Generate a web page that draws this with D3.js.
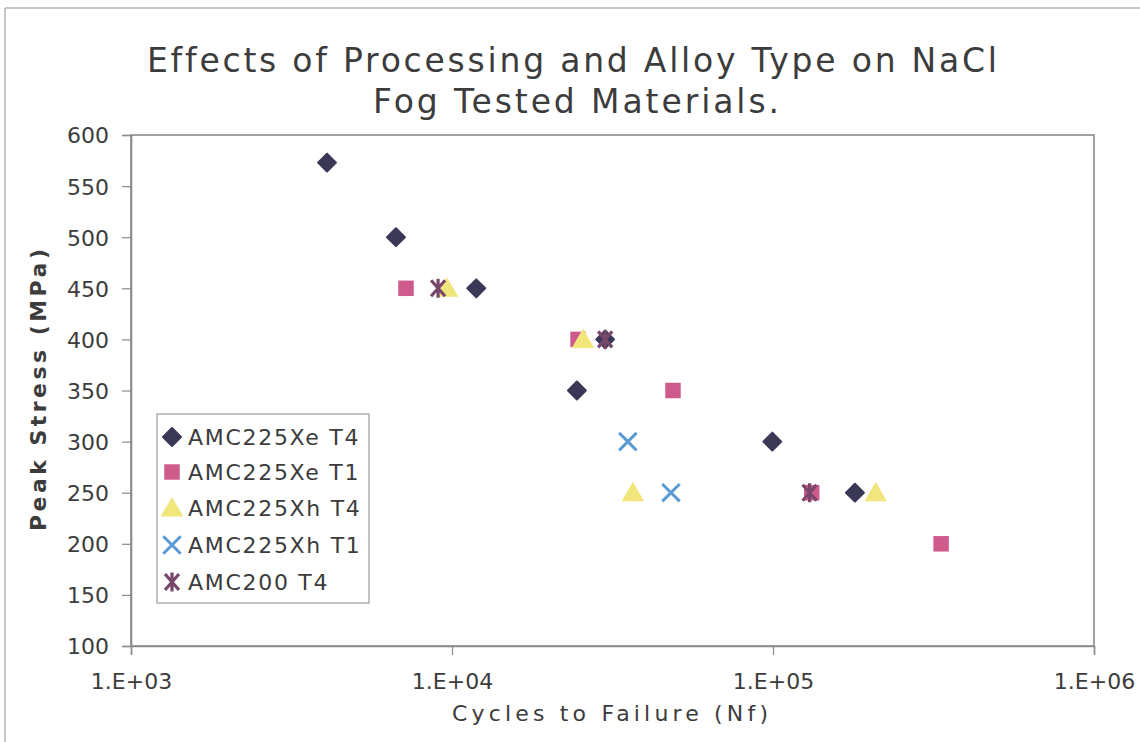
<!DOCTYPE html>
<html>
<head>
<meta charset="utf-8">
<script src="https://cdn.jsdelivr.net/npm/d3@7"></script>
<style>
  html, body { margin: 0; padding: 0; background: #fff; }
  svg { display: block; }
  text { font-family: "DejaVu Sans", Verdana, sans-serif; fill: #3c3c3c; font-variant-ligatures: none; }
</style>
</head>
<body>
<svg id="chart" width="1140" height="742"></svg>
<script>
// Fatigue data: cycles to failure (Nf) against peak stress (MPa)
const seriesNames = ["AMC225Xe T4", "AMC225Xe T1", "AMC225Xh T4", "AMC225Xh T1", "AMC200 T4"];

const xeT4Cycles = [4080, 6690, 11900, 24500, 30000, 99500, 180000];
const xeT4Stress = [573, 500, 450, 350, 400, 300, 250];

const xeT1Cycles = [7190, 24700, 48800, 132000, 334000];
const xeT1Stress = [450, 400, 350, 250, 200];

const xhT4Cycles = [9650, 25600, 36600, 209000];
const xhT4Stress = [450, 400, 250, 250];

const xhT1Cycles = [35300, 48100];
const xhT1Stress = [300, 250];

const a200T4Cycles = [9050, 30000, 130000];
const a200T4Stress = [450, 400, 250];

const xTickValues = [1e3, 1e4, 1e5, 1e6];
const xTickLabels = ["1.E+03", "1.E+04", "1.E+05", "1.E+06"];
const yTickValues = [100, 150, 200, 250, 300, 350, 400, 450, 500, 550, 600];

const titleLines = ["Effects of Processing and Alloy Type on NaCl", "Fog Tested Materials."];
const xTitle = "Cycles to Failure (Nf)";
const yTitle = "Peak Stress (MPa)";

const seriesData = [
  { name: seriesNames[0], xs: xeT4Cycles, ys: xeT4Stress, shape: "diamond", color: "#3a3856" },
  { name: seriesNames[1], xs: xeT1Cycles, ys: xeT1Stress, shape: "square", color: "#cf5a8c" },
  { name: seriesNames[2], xs: xhT4Cycles, ys: xhT4Stress, shape: "triangle", color: "#f1e67c" },
  { name: seriesNames[3], xs: xhT1Cycles, ys: xhT1Stress, shape: "cross", color: "#5b9bd5" },
  { name: seriesNames[4], xs: a200T4Cycles, ys: a200T4Stress, shape: "star", color: "#77476a" }
];

const svg = d3.select("#chart");
const plot = { left: 131, right: 1094, top: 135, bottom: 646 };
const axisColor = "#8a8a8a";

// Outer chart frame (top and left edges)
svg.append("line").attr("x1", 5).attr("x2", 1140).attr("y1", 8).attr("y2", 8)
  .attr("stroke", "#b4b4b4").attr("stroke-width", 1.5);
svg.append("line").attr("x1", 5).attr("x2", 5).attr("y1", 8).attr("y2", 742)
  .attr("stroke", "#b4b4b4").attr("stroke-width", 1.5);

const x = d3.scaleLog().domain([1e3, 1e6]).range([plot.left, plot.right]);
const y = d3.scaleLinear().domain([100, 600]).range([plot.bottom, plot.top]);

// Plot area frame
svg.append("rect")
  .attr("x", plot.left).attr("y", plot.top)
  .attr("width", plot.right - plot.left).attr("height", plot.bottom - plot.top)
  .attr("fill", "none").attr("stroke", axisColor).attr("stroke-width", 1.6);

// Y axis
const yAxis = svg.append("g").attr("transform", `translate(${plot.left},0)`)
  .call(d3.axisLeft(y).tickValues(yTickValues).tickSize(9).tickPadding(13).tickFormat(d3.format("d")));
yAxis.select(".domain").attr("stroke", axisColor).attr("stroke-width", 1.6);
yAxis.selectAll(".tick line").attr("stroke", axisColor).attr("stroke-width", 1.2);
yAxis.selectAll(".tick text").attr("font-size", 22).attr("fill", "#3c3c3c")
  .attr("font-family", "'DejaVu Sans', Verdana, sans-serif").attr("dy", "0.36em");

// X axis
const xAxis = svg.append("g").attr("transform", `translate(0,${plot.bottom})`)
  .call(d3.axisBottom(x).tickValues(xTickValues).tickSize(9).tickPadding(18)
    .tickFormat((d, i) => xTickLabels[i]));
xAxis.select(".domain").attr("stroke", axisColor).attr("stroke-width", 1.6);
xAxis.selectAll(".tick line").attr("stroke", axisColor).attr("stroke-width", 1.2);
xAxis.selectAll(".tick text").attr("font-size", 22).attr("fill", "#3c3c3c")
  .attr("font-family", "'DejaVu Sans', Verdana, sans-serif");

// Titles
svg.append("text").attr("x", 572).attr("y", 72).attr("text-anchor", "middle")
  .attr("font-size", 33).attr("textLength", 850).attr("lengthAdjust", "spacing")
  .text(titleLines[0]);
svg.append("text").attr("x", 576).attr("y", 113).attr("text-anchor", "middle")
  .attr("font-size", 33).attr("textLength", 406).attr("lengthAdjust", "spacing")
  .text(titleLines[1]);
svg.append("text").attr("x", 610).attr("y", 721).attr("text-anchor", "middle")
  .attr("font-size", 22).attr("textLength", 316).attr("lengthAdjust", "spacing")
  .text(xTitle);
svg.append("text")
  .attr("transform", "translate(46,390) rotate(-90)")
  .attr("text-anchor", "middle").attr("font-size", 22).attr("font-weight", "bold")
  .attr("textLength", 282).attr("lengthAdjust", "spacing")
  .text(yTitle);

// Marker shapes
const symbolFor = {
  diamond: d3.symbol().type(d3.symbolSquare).size(160),
  square: d3.symbol().type(d3.symbolSquare).size(240),
  triangle: d3.symbol().type(d3.symbolTriangle).size(220),
  cross: d3.symbol().type(d3.symbolTimes).size(200)
};
// Star marker: an X crossed by a vertical bar
const starPath = "M-7,-8L7,8M7,-8L-7,8M0,-9.5L0,9.5";

function drawMarker(g, shape, color) {
  if (shape === "star") {
    g.append("path").attr("d", starPath).attr("fill", "none")
      .attr("stroke", color).attr("stroke-width", 3.2);
    return;
  }
  const p = g.append("path").attr("d", symbolFor[shape]());
  if (shape === "cross") {
    p.attr("fill", "none").attr("stroke", color).attr("stroke-width", 3);
  } else {
    p.attr("fill", color);
    if (shape === "diamond") p.attr("transform", "rotate(45)").attr("stroke", color)
      .attr("stroke-width", 2).attr("stroke-linejoin", "round");
    if (shape === "triangle") p.attr("transform", "translate(0,2)");
  }
}

seriesData.forEach(s => {
  const pts = s.xs.map((v, i) => ({ cx: v, cy: s.ys[i] }));
  svg.append("g").selectAll("g").data(pts).join("g")
    .attr("transform", d => `translate(${x(d.cx)},${y(d.cy)})`)
    .each(function () { drawMarker(d3.select(this), s.shape, s.color); });
});

// Legend
const legend = svg.append("g");
legend.append("rect").attr("x", 157).attr("y", 414).attr("width", 212).attr("height", 189)
  .attr("fill", "#fff").attr("stroke", "#9a9a9a").attr("stroke-width", 1.2);
const legendRows = [437, 472, 508, 545, 582];
seriesData.forEach((s, i) => {
  const row = legend.append("g").attr("transform", `translate(172,${legendRows[i]})`);
  drawMarker(row, s.shape, s.color);
  legend.append("text").attr("x", 188).attr("y", legendRows[i] + 8)
    .attr("font-size", 22).attr("letter-spacing", 1.7)
    .text(s.name);
});
</script>
</body>
</html>
